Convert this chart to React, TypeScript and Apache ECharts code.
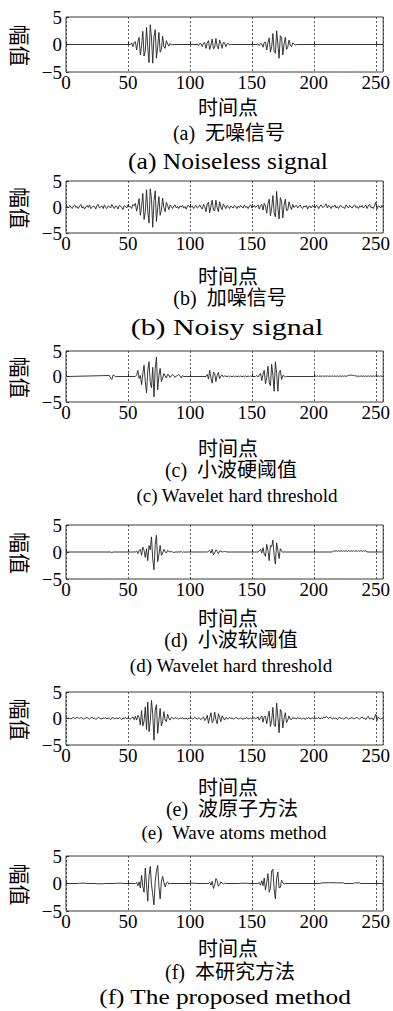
import React, { useEffect, useRef } from "react";
import * as echarts from "echarts";

// ---------- data ----------
const X_TICKS = [0, 50, 100, 150, 200, 250];
const Y_TICKS = [-5, 0, 5];

// (a) noiseless signal: packets [start, values]
const A_P1_START = 52;
const A_P1 = [0, 0.3, -0.4, 0.4, 0.5, -1.0, 0.4, 1.3, -1.9, -0.2, 2.4, -2.1, -1.2, 3.1, -0.5, -3.3, 3.6, 1.2, -3.4, 1.4, 2.7, -2.5, -0.4, 2.2, -1.4, -0.9, 1.5, -0.4, -0.7, 0.7, 0.1, -0.3, 0.2, -0.1, 0];
const A_P2_START = 105;
const A_P2 = [0, 0.1, -0.2, 0.2, 0.1, -0.4, 0.3, 0.3, -0.7, 0.3, 0.7, -0.9, -0.1, 1.0, -0.8, -0.5, 1.1, -0.3, -0.8, 0.8, 0.2, -0.7, 0.4, 0.3, -0.4, 0.1, 0.2, -0.1, 0.05, 0];
const A_P3_START = 154;
const A_P3 = [0, 0.1, -0.2, 0.2, 0.1, -0.5, 0.4, 0.4, -1.0, 0.3, 1.2, -1.4, -0.4, 2.0, -1.3, -1.6, 2.5, 0.1, -2.5, 1.6, 1.3, -1.9, 0.1, 1.3, -0.9, -0.5, 0.8, -0.1, -0.4, 0.3, 0.1, -0.1, 0];

// (b) noisy signal, x = 1..256
const B_VALUES = [
  0.1, -0.2, 0.3, 0.0, -0.3, 0.2, 0.4, -0.1, 0.1, -0.3,
  0.2, 0.5, -0.2, 0.1, -0.4, 0.0, 0.3, -0.1, 0.4, -0.3,
  -0.1, 0.2, 0.1, -0.4, 0.3, 0.5, -0.2, 0.0, 0.2, -0.3,
  0.4, -0.1, -0.3, 0.2, 0.1, -0.2, 0.5, 0.0, -0.3, 0.2,
  0.1, -0.4, 0.3, 0.2, -0.1, -0.5, 0.3, 0.1, -0.2, 0.4,
  0.0, 0.1, -0.3, 0.5, 0.2, 0.7, -0.8, 0.3, 1.6, -1.6,
  0.1, 2.6, -2.4, -0.9, 3.3, -0.8, -3.1, 3.5, 1.5, -3.9,
  1.2, 3.1, -2.8, -0.1, 2.0, -1.6, -0.6, 1.7, -0.1, -0.9,
  0.9, 0.3, -0.5, 0.4, 0.1, -0.3, 0.2, 0.4, -0.2, 0.1,
  -0.3, 0.2, 0.0, 0.3, -0.2, 0.1, -0.4, 0.2, 0.3, -0.1,
  0.0, 0.2, -0.3, 0.1, 0.3, -0.2, 0.0, 0.4, -0.1, -0.4,
  0.5, 0.1, -0.9, 0.6, 0.9, -1.1, 0.2, 1.3, -0.6, -0.7,
  1.3, -0.1, -0.9, 1.0, 0.0, -0.5, 0.6, 0.2, -0.3, 0.3,
  0.1, -0.3, 0.2, 0.0, -0.2, 0.3, 0.1, -0.3, 0.2, -0.1,
  0.3, 0.0, -0.2, 0.4, -0.1, 0.1, -0.3, 0.2, 0.4, -0.2,
  0.0, 0.3, -0.1, 0.2, 0.4, -0.4, 0.3, 0.5, -0.6, 0.7,
  0.2, -1.2, 0.6, 1.5, -1.7, -0.2, 2.2, -1.1, -1.9, 3.0,
  -0.1, -2.3, 1.8, 1.1, -2.1, 0.3, 1.5, -0.7, -0.6, 1.0,
  0.1, -0.5, 0.5, -0.1, 0.2, 0.3, -0.2, 0.1, 0.4, -0.1,
  -0.3, 0.2, 0.0, 0.3, -0.4, 0.1, 0.2, -0.2, 0.3, 0.0,
  -0.2, 0.3, 0.1, -0.3, 0.2, 0.4, -0.1, 0.0, 0.3, 0.6,
  -0.2, 0.3, 0.1, -0.3, 0.2, 0.0, 0.4, -0.2, 0.1, -0.3,
  0.2, 0.3, -0.1, 0.0, -0.3, 0.4, 0.1, -0.2, 0.3, 0.0,
  -0.2, 0.2, 0.4, -0.1, 0.1, -0.3, 0.2, 0.0, 0.3, -0.2,
  0.1, 0.4, -0.3, 0.2, 0.5, -0.1, 0.0, -0.3, 0.3, 0.9,
  -0.4, 0.2, 0.1, -0.2, 0.3, -0.1,
];

// (c) wavelet hard threshold
const C_BLIP_START = 35;
const C_BLIP = [0.2, -0.3, -0.6, 0.3, 0.2, -0.1, 0];
const C_P1_START = 56;
const C_P1 = [0, 0.3, 1.2, -0.4, 0.2, -1.6, 0.5, 2.2, -1.0, -3.2, 1.2, 2.9, -1.2, -2.2, 1.8, -4.0, 1.5, 3.8, -2.6, 0.2, 1.6, -1.0, -0.3, 0.6, 0.1, -0.3, 0.4, 0.3, -0.2, 0.1, 0.4, 0.2, -0.2, 0.1, 0.2, 0.4, 0.1, -0.3, 0.2, 0];
const C_P2_START = 113;
const C_P2 = [0, 0.4, -0.5, 1.2, -0.3, -1.3, 0.9, 0.6, -1.0, 0.2, 0.8, -0.4, 0.1, 0.3, -0.1, 0.1];
const C_RIPPLE1_START = 129;
const C_RIPPLE1 = [0.1, -0.05, 0.1, -0.05, 0.1, -0.05, 0.1, -0.05, 0.1, -0.05, 0.1, -0.05, 0.1, -0.05, 0.1, -0.05, 0.1, -0.05, 0.1, -0.05, 0.1, 0];
const C_P3_START = 153;
const C_P3 = [0, 0.2, -0.1, 0.3, 0.6, -0.8, 0.4, 1.2, -1.4, -0.2, 2.0, -1.2, -1.8, 2.4, 0.2, -2.9, 2.9, 0.6, -2.9, 0.8, 1.2, -0.6, 0.2, 0.1, -0.1, 0];
const C_RIPPLE2_START = 201;
const C_RIPPLE2 = [
  0.12, 0.02, 0.12, 0.02, 0.12, 0.02, 0.12, 0.02, 0.12, 0.02, 0.12, 0.02, 0.12, 0.02,
  0.12, 0.02, 0.12, 0.02, 0.12, 0.02, 0.12, 0.02, 0.12, 0.02, 0.12, 0.02, 0.12,
  0.25, 0.2, 0.3, 0.25, 0.2, 0.15,
  0.12, 0.02, 0.12, 0.02, 0.12, 0.02, 0.12, 0.02, 0.12, 0.02, 0.12, 0.02, 0.12, 0.02,
  0.12, 0.02, 0.12, 0.02, 0.12, 0.02, 0.12, 0.02, 0.05,
];

// (d) wavelet soft threshold
const D_P1_START = 56;
const D_P1 = [0, 0.2, -0.3, 0.3, 0.5, -0.6, 0.9, 0.3, -1.0, 0.6, -1.6, 1.2, 0.4, 2.8, -1.3, -3.3, 1.4, 3.1, -1.8, -0.5, 1.2, -0.6, -0.2, 0.5, 0.1, -0.2, 0.3, 0.1, 0, 0.15, 0, -0.1, 0];
const D_TAIL_START = 92;
const D_TAIL = [0, 0.1, -0.1, 0.05, -0.05, 0];
const D_P2_START = 114;
const D_P2 = [0, 0.1, 0.3, -0.2, 0.5, -0.5, -0.2, 0.4, 0.1, -0.3, 0.2, 0.1, 0, 0.05, 0.1, 0.05, 0];
const D_P3_START = 155;
const D_P3 = [0, 0.2, 0.5, -0.2, 0.8, -0.4, -0.8, 1.4, 0.3, -1.6, 1.2, 1.0, 2.2, -0.7, -2.2, 1.7, 0.3, -1.2, 0.6, 0.2, -0.1, 0.05, 0];
const D_RIPPLE_START = 216;
const D_RIPPLE = [0.25, 0.12, 0.25, 0.12, 0.25, 0.12, 0.25, 0.12, 0.25, 0.12, 0.25, 0.12, 0.25, 0.12, 0.25, 0.12, 0.25, 0.12, 0.25, 0.12, 0.25, 0.12, 0.25, 0.12, 0.25, 0.12, 0.25, 0];

// (e) wave atoms method, x = 1..256
const E_VALUES = [
  0.0, 0.1, 0.0, -0.1, 0.1, 0.2, 0.0, 0.1, 0.2, 0.1,
  0.0, 0.2, 0.1, -0.1, 0.0, 0.1, 0.2, 0.0, -0.1, 0.1,
  0.2, 0.0, 0.1, -0.2, 0.0, 0.2, 0.1, 0.0, -0.1, 0.1,
  0.0, 0.2, -0.1, 0.1, 0.0, -0.2, 0.1, 0.2, -0.1, 0.0,
  0.1, -0.1, 0.2, 0.0, -0.2, 0.1, 0.0, 0.2, -0.1, 0.1,
  0.0, -0.1, 0.1, 0.3, -0.2, 0.4, -0.3, 0.6, 0.2, -1.2,
  1.5, -1.4, -0.5, 2.2, -2.1, 3.1, -2.5, -0.6, 3.4, 0.8,
  -4.1, 1.6, 2.6, -2.8, -0.3, 1.9, -1.4, -0.6, 1.3, -0.3,
  -0.6, 0.8, 0.1, -0.3, 0.2, 0.1, -0.1, 0.2, 0.0, 0.1,
  -0.1, 0.1, 0.0, 0.2, -0.1, 0.0, 0.1, -0.2, 0.1, 0.0,
  0.1, -0.1, 0.0, 0.2, 0.0, -0.1, 0.1, 0.0, -0.2, 0.1,
  0.3, -0.4, -0.1, 0.6, -0.9, 0.2, 1.1, -0.8, -0.4, 1.2,
  -0.2, -1.0, 0.9, 0.2, -0.6, 0.5, 0.1, -0.3, 0.2, 0.0,
  -0.1, 0.2, 0.0, 0.1, -0.1, 0.0, 0.2, 0.1, -0.1, 0.0,
  0.1, 0.0, -0.2, 0.1, 0.0, 0.2, -0.1, 0.0, 0.1, -0.1,
  0.0, 0.2, -0.1, 0.1, 0.3, -0.3, 0.2, 0.5, -0.7, 0.4,
  0.4, -1.0, 0.3, 1.4, -1.5, -0.3, 2.1, -1.3, -1.5, 2.9,
  0.2, -2.7, 1.7, 1.2, -1.8, 0.1, 1.1, -0.8, -0.3, 0.5,
  -0.1, -0.2, 0.2, 0.0, 0.1, -0.1, 0.2, 0.0, 0.1, -0.1,
  0.0, 0.1, -0.2, 0.1, 0.0, 0.2, -0.1, 0.0, 0.1, 0.0,
  -0.1, 0.1, 0.0, 0.2, -0.1, 0.1, 0.0, 0.3, 0.1, 0.4,
  0.2, 0.0, 0.3, 0.1, -0.1, 0.2, 0.0, 0.1, -0.2, 0.1,
  0.2, 0.0, 0.1, -0.1, 0.0, 0.2, 0.1, -0.1, 0.0, 0.1,
  0.2, -0.1, 0.0, 0.1, 0.2, 0.0, -0.1, 0.1, 0.3, 0.0,
  0.1, -0.2, 0.2, 0.4, -0.1, 0.0, 0.1, -0.3, 0.2, 0.8,
  -0.4, 0.3, 0.0, -0.1, 0.1, 0.0,
];

// (f) proposed method
const F_BASE1: number[][] = [[1, 0], [10, 0], [11, 0.05], [16, 0.05], [17, 0], [24, 0], [25, -0.05], [30, -0.05], [31, 0], [40, 0], [41, 0.05], [45, 0.05], [46, 0], [55, 0]];
const F_P1_START = 56;
const F_P1 = [0, 0.2, -0.4, 0.3, -0.8, 1.5, -0.5, -1.6, 2.8, -0.3, -3.2, 1.4, 3.1, -0.2, -2.0, -3.9, 0.4, 2.2, 3.3, -0.6, -2.8, 0.4, 1.3, 0.2, -0.6, 0.1, 0.3, -0.1, 0];
const F_BASE2: number[][] = [[100, 0], [101, 0.05], [104, 0.05], [105, 0], [114, 0]];
const F_P2_START = 115;
const F_P2 = [0, 0.2, -0.3, 0.4, -0.9, -0.3, 0.9, 0.5, -0.5, -0.2, 0.3, 0.1, -0.1, 0.05, 0];
const F_BASE3: number[][] = [[140, 0], [141, 0.05], [146, 0.05], [147, 0], [154, 0]];
const F_P3_START = 155;
const F_P3 = [0, 0.2, -0.3, 0.5, -0.4, 1.0, -1.2, 0.2, 1.8, -1.6, -0.9, 2.3, 2.6, -1.0, -2.8, 0.9, 2.1, -0.8, -0.7, 0.6, 0.1, -0.1, 0];
const F_BASE4: number[][] = [[205, 0], [206, 0.1], [212, 0.15], [218, 0.12], [224, 0.1], [225, 0], [232, 0], [233, 0.12], [237, 0.12], [238, 0], [256, 0]];

const X_NAME = "时间点";
const Y_NAME = "幅值";
const CAPTIONS_CN = ["(a)\u2002无噪信号", "(b)\u2002加噪信号", "(c)\u2002小波硬阈值", "(d)\u2002小波软阈值", "(e)\u2002波原子方法", "(f)\u2002本研究方法"];
const CAPTIONS_EN = ["(a) Noiseless signal", "(b) Noisy signal", "(c) Wavelet hard threshold", "(d) Wavelet hard threshold", "(e)\u2002Wave atoms method", "(f) The proposed method"];

// ---------- helpers ----------
const seg = (start: number, ys: number[]) => ys.map((y, k) => [start + k, y]);
const full = (ys: number[]) => ys.map((y, k) => [k + 1, y]);

const SERIES_DATA: number[][][] = [
  [[1, 0], ...seg(A_P1_START, A_P1), ...seg(A_P2_START, A_P2), ...seg(A_P3_START, A_P3), [256, 0]],
  full(B_VALUES),
  [[1, 0], ...seg(C_BLIP_START, C_BLIP), [55, 0], ...seg(C_P1_START, C_P1), ...seg(C_P2_START, C_P2), ...seg(C_RIPPLE1_START, C_RIPPLE1), ...seg(C_P3_START, C_P3), [200, 0], ...seg(C_RIPPLE2_START, C_RIPPLE2)],
  [[1, 0], [36, 0], [37, -0.1], [38, 0], [55, 0], ...seg(D_P1_START, D_P1), ...seg(D_TAIL_START, D_TAIL), ...seg(D_P2_START, D_P2), ...seg(D_P3_START, D_P3), [215, 0], ...seg(D_RIPPLE_START, D_RIPPLE), [256, 0]],
  full(E_VALUES),
  [...F_BASE1, ...seg(F_P1_START, F_P1), ...F_BASE2, ...seg(F_P2_START, F_P2), ...F_BASE3, ...seg(F_P3_START, F_P3), ...F_BASE4],
];

// ---------- layout ----------
const PLOT_LEFT = 66;
const PLOT_WIDTH = 319;
const PANEL_TOPS = [17, 181, 351, 525, 692, 856];
const PANEL_HEIGHTS = [55, 52, 51, 54, 53, 55];
const XNAME_Y = [106, 275, 447, 617, 786, 947];
const CN_Y = [133, 298, 470, 640, 809, 972];
const EN_Y = [161, 327, 495, 665, 832, 997];
const CN_X = [229, 230, 231, 231, 232, 230];
const EN_X = [228, 227, 237, 231, 234, 225];
const EN_SIZE = [23, 23, 19, 19, 19, 22];
const EN_SCALE = [1.11, 1.3, 1, 1, 1, 1.15];

const SERIF = '"Liberation Serif", "Times New Roman", serif';
const MIXED = '"Liberation Serif", "Noto Sans CJK SC", serif';
const CJK = '"Noto Sans CJK SC", sans-serif';

export default function App() {
  const ref = useRef<HTMLDivElement>(null);
  useEffect(() => {
    if (!ref.current) return;
    const chart = echarts.init(ref.current, undefined, { renderer: "svg" });
    const n = SERIES_DATA.length;
    const grid = PANEL_TOPS.map((t, i) => ({
      left: PLOT_LEFT,
      top: t,
      width: PLOT_WIDTH,
      height: PANEL_HEIGHTS[i],
      show: true,
      borderColor: "#3a3a3a",
      borderWidth: 1,
      backgroundColor: "transparent",
    }));
    const xAxis = PANEL_TOPS.map((_, i) => ({
      type: "value",
      gridIndex: i,
      min: X_TICKS[0],
      max: 256,
      interval: X_TICKS[1] - X_TICKS[0],
      axisLine: { show: false },
      axisTick: { show: true, inside: true, length: 3, lineStyle: { color: "#333" } },
      splitLine: { show: true, lineStyle: { color: "#333", type: [2, 2], width: 0.8 } },
      axisLabel: {
        color: "#000",
        fontFamily: SERIF,
        fontSize: 19,
        margin: 1,
        showMaxLabel: false,
        formatter: (v: number) => (X_TICKS.includes(v) ? String(v) : ""),
      },
    }));
    const yAxis = PANEL_TOPS.map((_, i) => ({
      type: "value",
      gridIndex: i,
      min: Y_TICKS[0],
      max: Y_TICKS[2],
      interval: Y_TICKS[1] - Y_TICKS[0],
      axisLine: { show: false },
      axisTick: { show: true, inside: true, length: 3, lineStyle: { color: "#333" } },
      splitLine: { show: false },
      axisLabel: {
        color: "#000",
        fontFamily: SERIF,
        fontSize: 19,
        margin: 4,
        formatter: (v: number) => (v < 0 ? "\u2212" + Math.abs(v) : String(v)),
      },
    }));
    const series = SERIES_DATA.map((d, i) => ({
      type: "line",
      xAxisIndex: i,
      yAxisIndex: i,
      data: d,
      showSymbol: false,
      symbol: "none",
      silent: true,
      lineStyle: { color: "#222", width: 0.9 },
    }));
    const graphic: any[] = [];
    for (let i = 0; i < n; i++) {
      const top = PANEL_TOPS[i];
      const h = PANEL_HEIGHTS[i];
      graphic.push({
        type: "text",
        x: 21,
        y: top + h / 2 + 1,
        rotation: -Math.PI / 2,
        style: { text: Y_NAME, fontFamily: CJK, fontSize: 21, lineHeight: 21, fill: "#000", textAlign: "center", textVerticalAlign: "middle" },
      });
      graphic.push({
        type: "text",
        x: 228,
        y: XNAME_Y[i],
        style: { text: X_NAME, fontFamily: CJK, fontSize: 20, lineHeight: 20, fill: "#000", textAlign: "center", textVerticalAlign: "middle" },
      });
      graphic.push({
        type: "text",
        x: CN_X[i],
        y: CN_Y[i],
        style: { text: CAPTIONS_CN[i], fontFamily: MIXED, fontSize: 20, lineHeight: 20, fill: "#000", textAlign: "center", textVerticalAlign: "middle" },
      });
      graphic.push({
        type: "text",
        x: EN_X[i],
        y: EN_Y[i],
        scaleX: EN_SCALE[i],
        style: { text: CAPTIONS_EN[i], fontFamily: SERIF, fontSize: EN_SIZE[i], lineHeight: EN_SIZE[i], fill: "#000", textAlign: "center", textVerticalAlign: "middle" },
      });
    }
    chart.setOption({
      animation: false,
      backgroundColor: "#fff",
      grid,
      xAxis,
      yAxis,
      series,
      graphic,
    });
    return () => chart.dispose();
  }, []);
  return <div ref={ref} style={{ position: "absolute", left: 0, top: 0, width: 393, height: 1011 }} />;
}
